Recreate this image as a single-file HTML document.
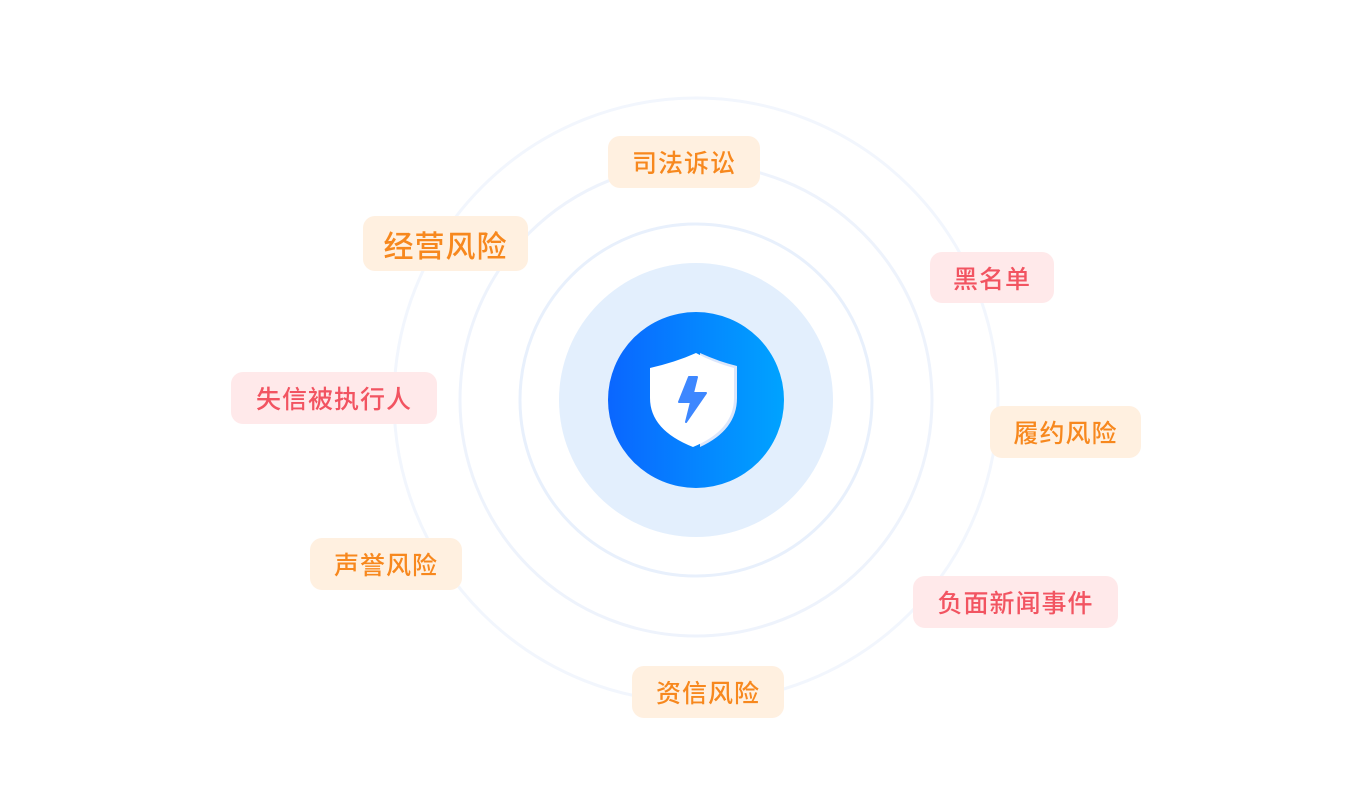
<!DOCTYPE html>
<html><head><meta charset="utf-8"><style>
html,body{margin:0;padding:0;background:#fff;}
body{width:1360px;height:800px;position:relative;overflow:hidden;font-family:"Liberation Sans","Noto Sans CJK SC",sans-serif;}
.t{position:absolute;display:flex;align-items:center;justify-content:center;border-radius:12px;font-size:25px;font-weight:500;letter-spacing:1px;}
.o{background:#fff0e0;color:#f7881e;}
.r{background:#ffe9ea;color:#f25461;}
svg{position:absolute;left:0;top:0;}
</style></head><body>
<svg width="1360" height="800">
<defs><linearGradient id="g" x1="0" x2="1" y1="0" y2="0"><stop offset="0" stop-color="#0a66ff"/><stop offset="1" stop-color="#00a3ff"/></linearGradient></defs>
<circle cx="696" cy="400" r="302" fill="none" stroke="#f2f6fd" stroke-width="3"/>
<circle cx="696" cy="400" r="236" fill="none" stroke="#eef3fc" stroke-width="3"/>
<circle cx="696" cy="400" r="176" fill="none" stroke="#e8f0fc" stroke-width="3"/>
<circle cx="696" cy="400" r="137" fill="#e3effd"/>
<circle cx="696" cy="400" r="88" fill="url(#g)"/>
<path d="M700 353 Q720 362 737 366 L737 398 Q737 430 700 447 Z" fill="#dbe6fb"/>
<path d="M696 353 Q676 362 650 368 L650 398 Q650 430 693 447 Q734 430 734 398 L734 368 Q712 362 696 353 Z" fill="#fff"/>
<path d="M689 377 L697 377 L693 393 L706 393 L686 422 L691 402 L679 402 Z" fill="#3d87ff" stroke="#3d87ff" stroke-width="2" stroke-linejoin="round"/>
</svg>
<div class="t o" style="left:608px;top:136px;width:152px;height:52px;">司法诉讼</div>
<div class="t o" style="left:363px;top:216px;width:165px;height:55px;font-size:30px;">经营风险</div>
<div class="t r" style="left:930px;top:252px;width:124px;height:51px;">黑名单</div>
<div class="t r" style="left:231px;top:372px;width:206px;height:52px;">失信被执行人</div>
<div class="t o" style="left:990px;top:406px;width:151px;height:52px;">履约风险</div>
<div class="t o" style="left:310px;top:538px;width:152px;height:52px;">声誉风险</div>
<div class="t r" style="left:913px;top:576px;width:205px;height:52px;">负面新闻事件</div>
<div class="t o" style="left:632px;top:666px;width:152px;height:52px;">资信风险</div>
</body></html>
